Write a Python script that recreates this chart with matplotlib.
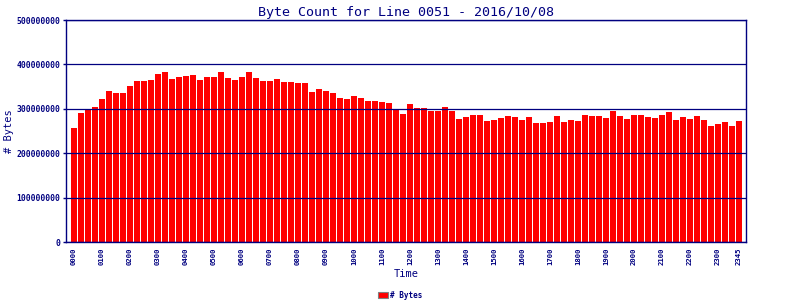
import matplotlib
matplotlib.use("Agg")
import matplotlib.pyplot as plt
from matplotlib.patches import Patch

# Byte counts in millions, one per 15-minute interval
values_m = [
    256, 291, 299, 304.5, 322, 340, 336, 336, 351, 362, 362, 364,
    378, 382, 366.5, 371, 373, 375.5, 364, 371, 371, 382, 369, 364,
    371, 382, 369, 362, 362, 366.5, 360, 360, 358, 358, 338, 344.8,
    340, 336, 324.6, 322, 329, 324.6, 318, 318, 315.7, 313.4, 299, 289,
    309.7, 300.7, 300.7, 294, 294, 303, 294, 278, 282, 286.6, 286.6, 273,
    275.5, 280, 284.7, 282, 275.5, 282, 268.7, 268.7, 271, 284.7, 271, 275.5,
    273, 286.6, 284.7, 284.7, 280, 294, 284.7, 278, 286.6, 286.6, 282, 280,
    286.6, 291.8, 275.5, 282, 278, 284.7, 275.5, 262, 266.6, 271, 262, 273,
]
values = [v * 1e6 for v in values_m]
times = ["%02d%02d" % (h, m) for h in range(24) for m in (0, 15, 30, 45)]
tick_idx = list(range(0, 96, 4)) + [95]
tick_labels = [times[i] for i in tick_idx]
y_ticks = [0, 100000000, 200000000, 300000000, 400000000, 500000000]
title = "Byte Count for Line 0051 - 2016/10/08"

NAVY = "#000080"
FONT = "DejaVu Sans Mono"

fig = plt.figure(figsize=(8, 3), dpi=100)
ax = fig.add_axes([66 / 800, 58 / 300, 680 / 800, 222 / 300])

x = list(range(len(values)))
ax.bar(x, values, width=6 / 7, color="#ff0000", zorder=1, align="center")

ax.set_xlim(-8 / 7, 96)
ax.set_ylim(0, 500000000)

ax.set_yticks(y_ticks)
ax.set_yticklabels([str(t) for t in y_ticks], fontfamily=FONT,
                   fontsize=5.8, fontweight="bold", color=NAVY)
ax.yaxis.grid(True, color=NAVY, linewidth=0.9, zorder=2)
ax.set_axisbelow(False)
ax.tick_params(axis="y", length=2, width=1, color=NAVY, pad=2)

ax.set_xticks(tick_idx)
ax.set_xticklabels(tick_labels, rotation=90, fontfamily=FONT,
                   fontsize=5.2, fontweight="bold", color=NAVY)
ax.tick_params(axis="x", length=0, pad=4)

for s in ax.spines.values():
    s.set_color(NAVY)
    s.set_linewidth(1.0)

ax.set_title(title, fontfamily=FONT, fontsize=9.6, color=NAVY, pad=3)
ax.set_xlabel("Time", fontfamily=FONT, fontsize=7.5, color=NAVY, labelpad=3)
ax.set_ylabel("# Bytes", fontfamily=FONT, fontsize=7.5, color=NAVY, labelpad=2)

handle = Patch(facecolor="#ff0000", edgecolor="#808080", linewidth=0.8)
fig.legend([handle], ["# Bytes"], loc="center", bbox_to_anchor=(400 / 800, 1 - 295 / 300),
           frameon=False, handlelength=1.3, handleheight=0.8, handletextpad=0.3,
           prop={"family": FONT, "size": 5.5, "weight": "bold"}, labelcolor=NAVY)

fig.savefig("out.png", dpi=100)
